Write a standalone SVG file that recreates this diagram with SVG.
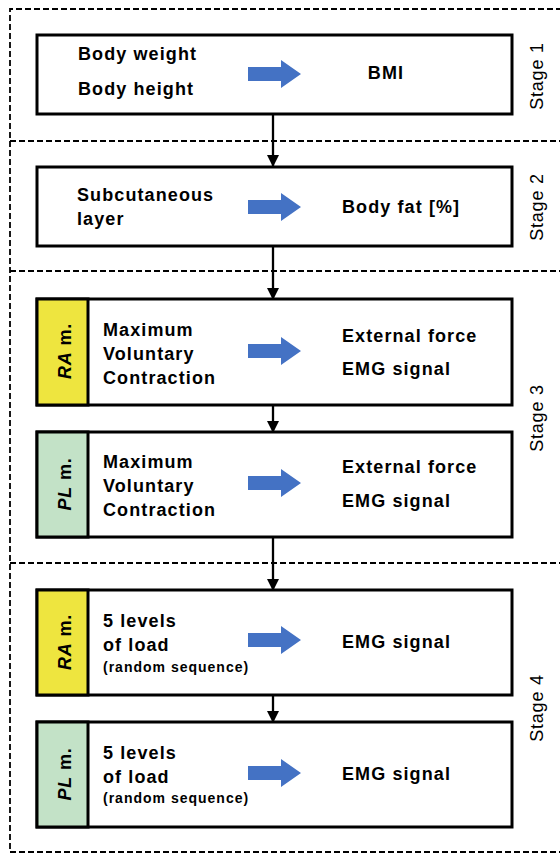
<svg xmlns="http://www.w3.org/2000/svg" width="560" height="854" viewBox="0 0 560 854">
<defs>
<style>
.dash{fill:none;stroke:#000;stroke-width:1.8;stroke-dasharray:6,3}
.box{fill:#fff;stroke:#000;stroke-width:3}
.t{font-family:"Liberation Sans",Arial,sans-serif;font-size:18px;font-weight:bold;fill:#000;letter-spacing:1.1px}
.s{font-family:"Liberation Sans",Arial,sans-serif;font-size:14px;font-weight:bold;fill:#000;letter-spacing:1px}
.st{font-family:"Liberation Sans",Arial,sans-serif;font-size:18px;fill:#000;letter-spacing:0.8px}
.lab{font-family:"Liberation Sans",Arial,sans-serif;font-size:18px;font-weight:bold;fill:#000;letter-spacing:0.8px}
.ra{fill:#EEE53F;stroke:#000;stroke-width:3}
.pl{fill:#C3E2C7;stroke:#000;stroke-width:3}
.conn{stroke:#000;stroke-width:2.3;fill:none}
</style>
<marker id="ah" markerWidth="12" markerHeight="12" refX="11" refY="6" orient="auto" markerUnits="userSpaceOnUse" viewBox="0 0 12 12">
<path d="M0,0 L12,6 L0,12 Z" fill="#000"/>
</marker>
<path id="barrow" d="M0,-7 L33,-7 L33,-14 L53,0 L33,14 L33,7 L0,7 Z" fill="#4472C4"/>
</defs>
<rect width="560" height="854" fill="#fff"/>
<g id="frame">
<path class="dash" d="M562,9 L10,9 L10,852 L562,852"/>
<path class="dash" d="M10,141 L562,141"/>
<path class="dash" d="M10,271 L562,271"/>
<path class="dash" d="M10,563 L562,563"/>
</g>
<g id="stages">
<text class="st" transform="translate(543,76) rotate(-90)" text-anchor="middle">Stage 1</text>
<text class="st" transform="translate(543,207) rotate(-90)" text-anchor="middle">Stage 2</text>
<text class="st" transform="translate(543,418) rotate(-90)" text-anchor="middle">Stage 3</text>
<text class="st" transform="translate(543,708) rotate(-90)" text-anchor="middle">Stage 4</text>
</g>
<g id="connectors">
<line class="conn" x1="273" y1="114" x2="273" y2="166" marker-end="url(#ah)"/>
<line class="conn" x1="273" y1="246" x2="273" y2="299" marker-end="url(#ah)"/>
<line class="conn" x1="273" y1="405" x2="273" y2="432" marker-end="url(#ah)"/>
<line class="conn" x1="273" y1="537" x2="273" y2="590" marker-end="url(#ah)"/>
<line class="conn" x1="273" y1="695" x2="273" y2="722" marker-end="url(#ah)"/>
</g>
<g id="stage1">
<rect class="box" x="37" y="35" width="475" height="79"/>
<text class="t" x="78" y="60">Body weight</text>
<text class="t" x="78" y="95">Body height</text>
<use href="#barrow" x="248" y="74"/>
<text class="t" x="386" y="79" text-anchor="middle">BMI</text>
</g>
<g id="stage2">
<rect class="box" x="37" y="167" width="475" height="79"/>
<text class="t" x="77" y="201">Subcutaneous</text>
<text class="t" x="77" y="225">layer</text>
<use href="#barrow" x="248" y="207"/>
<text class="t" x="342" y="213">Body fat [%]</text>
</g>
<g id="stage3-ra">
<rect class="box" x="37" y="299" width="475" height="106"/>
<rect class="ra" x="37" y="299" width="51" height="106"/>
<text class="lab" transform="translate(71,351) rotate(-90)" text-anchor="middle"><tspan font-style="italic">RA</tspan> m.</text>
<text class="t" x="103" y="336">Maximum</text>
<text class="t" x="103" y="360">Voluntary</text>
<text class="t" x="103" y="384">Contraction</text>
<use href="#barrow" x="248" y="351"/>
<text class="t" x="342" y="342">External force</text>
<text class="t" x="342" y="375">EMG signal</text>
</g>
<g id="stage3-pl">
<rect class="box" x="37" y="432" width="475" height="105"/>
<rect class="pl" x="37" y="432" width="51" height="105"/>
<text class="lab" transform="translate(71,484) rotate(-90)" text-anchor="middle"><tspan font-style="italic">PL</tspan> m.</text>
<text class="t" x="103" y="468">Maximum</text>
<text class="t" x="103" y="492">Voluntary</text>
<text class="t" x="103" y="516">Contraction</text>
<use href="#barrow" x="248" y="483"/>
<text class="t" x="342" y="473">External force</text>
<text class="t" x="342" y="507">EMG signal</text>
</g>
<g id="stage4-ra">
<rect class="box" x="37" y="590" width="475" height="105"/>
<rect class="ra" x="37" y="590" width="51" height="105"/>
<text class="lab" transform="translate(71,642) rotate(-90)" text-anchor="middle"><tspan font-style="italic">RA</tspan> m.</text>
<text class="t" x="103" y="627">5 levels</text>
<text class="t" x="103" y="651">of load</text>
<text class="s" x="103" y="672">(random sequence)</text>
<use href="#barrow" x="248" y="640"/>
<text class="t" x="342" y="648">EMG signal</text>
</g>
<g id="stage4-pl">
<rect class="box" x="37" y="722" width="475" height="105"/>
<rect class="pl" x="37" y="722" width="51" height="105"/>
<text class="lab" transform="translate(71,774) rotate(-90)" text-anchor="middle"><tspan font-style="italic">PL</tspan> m.</text>
<text class="t" x="103" y="759">5 levels</text>
<text class="t" x="103" y="783">of load</text>
<text class="s" x="103" y="803">(random sequence)</text>
<use href="#barrow" x="248" y="773"/>
<text class="t" x="342" y="780">EMG signal</text>
</g>
</svg>
